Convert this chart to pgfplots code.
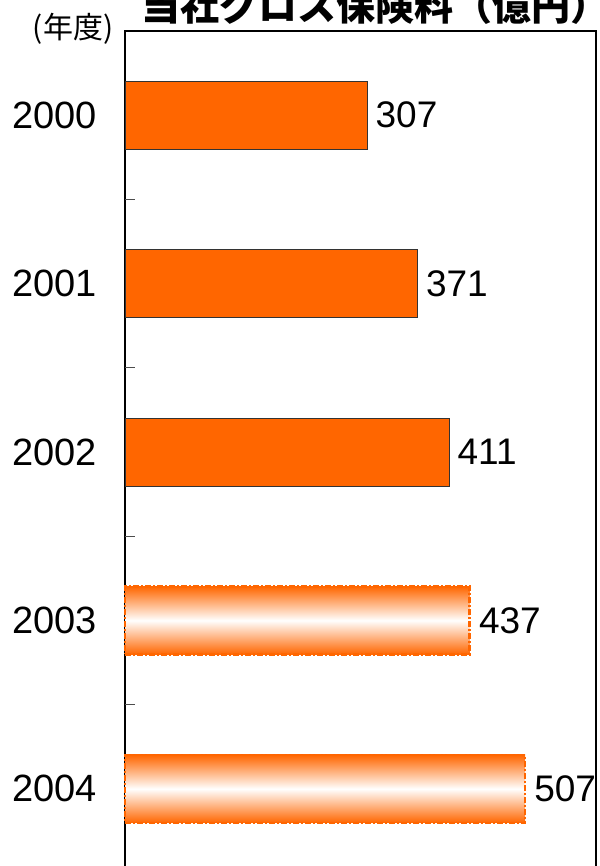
\documentclass[border=0pt]{standalone}
\usepackage{fontspec}
\setmainfont{Liberation Sans}
\newfontfamily\cjk{Noto Sans CJK JP}
\usepackage{pgfplots}
\pgfplotsset{compat=1.18}
\definecolor{barorange}{HTML}{FF6600}
\begin{document}
\begin{tikzpicture}
\begin{axis}[
  at={(62.5pt,-15.5pt)}, anchor=north west,
  scale only axis, width=235.5pt, height=421pt,
  xmin=0, xmax=597,
  ymin=-0.5, ymax=4.5, y dir=reverse,
  xbar, bar width=34pt, bar shift=0pt,
  axis line style={black, line width=0.7pt},
  xtick=\empty,
  ytick pos=left,
  ytick={0,1,2,3,4},
  yticklabels={2000,2001,2002,2003,2004},
  major tick length=0pt,
  yticklabel style={font=\fontsize{19pt}{22pt}\selectfont, inner sep=0pt, xshift=-14pt},
  extra y ticks={0.5,1.5,2.5,3.5},
  extra y tick labels={},
  extra y tick style={major tick length=5pt, tick align=inside, tick style={black!70, line width=0.4pt}},
  /pgf/number format/assume math mode=true,
  nodes near coords,
  nodes near coords style={font=\fontsize{18.5pt}{22pt}\selectfont, anchor=west, inner sep=0pt, xshift=4pt, black},
  clip=false,
]
\addplot[fill=barorange, draw=black!80, line width=0.4pt] coordinates {(307,0) (371,1) (411,2)};
\addplot[shading=axis, top color=barorange, bottom color=barorange, middle color=white,
  draw=barorange, line width=1.3pt, dash pattern=on 3pt off 1pt on 1pt off 1pt] coordinates {(437,3)};
\addplot[shading=axis, top color=barorange, bottom color=barorange, middle color=white,
  draw=barorange, line width=1.3pt, dash pattern=on 3pt off 1pt on 1pt off 1pt] coordinates {(507,4)};
\end{axis}
\node[font=\cjk\bfseries\fontsize{19.5pt}{22pt}\selectfont, anchor=center] at (187.5pt,-2.5pt) {当社グロス保険料（億円）};
\node[font=\cjk\fontsize{15pt}{18pt}\selectfont, anchor=center] at (36.5pt,-14.5pt) {(年度)};
\pgfresetboundingbox
\useasboundingbox (0,0) rectangle (299.5pt,-433pt);
\end{tikzpicture}
\end{document}
